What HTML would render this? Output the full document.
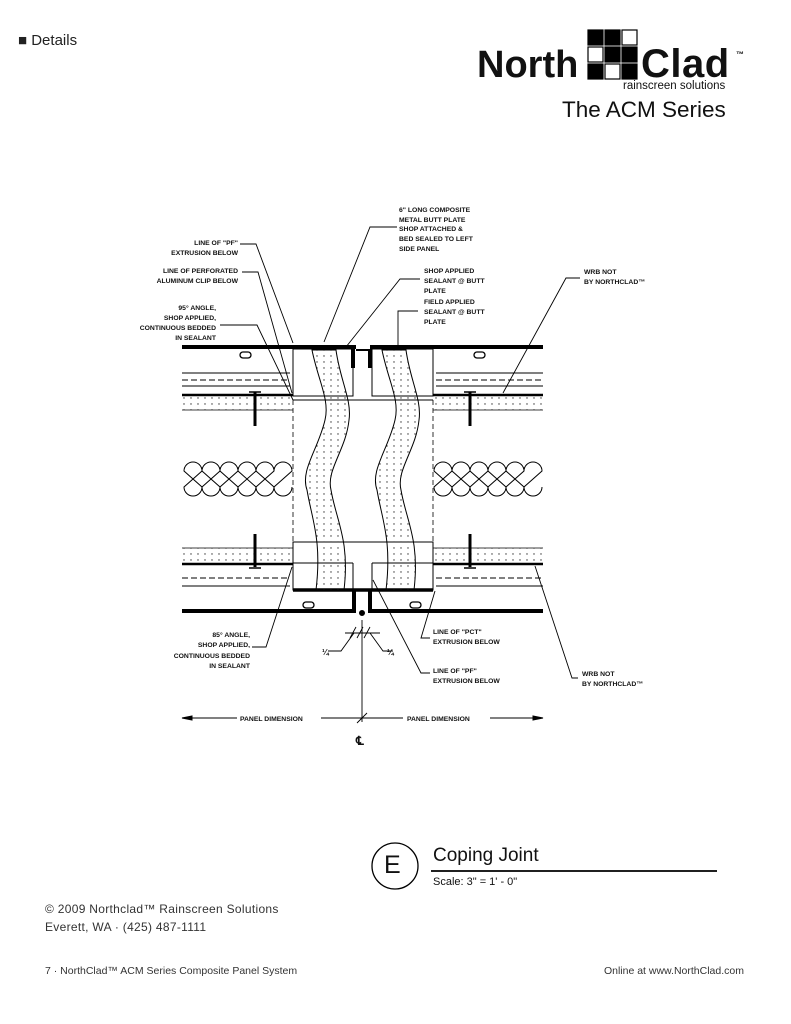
<!DOCTYPE html>
<html><head><meta charset="utf-8"><style>
html,body{margin:0;padding:0;background:#fff;}
body{width:791px;height:1024px;position:relative;overflow:hidden;font-family:"Liberation Sans",sans-serif;}
.t{position:absolute;white-space:nowrap;color:#111;}
</style></head><body>
<div class="t" style="left:477px;top:32px;font-size:15px;color:#222;left:18px;">■ Details</div>
<div class="t" style="left:477px;top:44px;font-size:38px;font-weight:bold;">North</div>
<div class="t" style="left:641px;top:42px;font-size:40px;font-weight:bold;letter-spacing:0.5px;">Clad</div>
<div class="t" style="left:736px;top:50px;font-size:8px;font-weight:bold;">™</div>
<div class="t" style="left:623px;top:80px;font-size:11.5px;">rainscreen solutions</div>
<div class="t" style="left:562px;top:97px;font-size:22.5px;">The ACM Series</div>

<svg width="791" height="1024" style="position:absolute;left:0;top:0" xmlns="http://www.w3.org/2000/svg">
<defs>
<pattern id="dots" width="7" height="6" patternUnits="userSpaceOnUse"><circle cx="2" cy="2" r="0.7" fill="#333"/></pattern>
</defs>
<g stroke="#000" stroke-width="1.2">
<rect x="588" y="30" width="15" height="15" fill="#000"/><rect x="605" y="30" width="15" height="15" fill="#000"/><rect x="622" y="30" width="15" height="15" fill="#fff"/>
<rect x="588" y="47" width="15" height="15" fill="#fff"/><rect x="605" y="47" width="15" height="15" fill="#000"/><rect x="622" y="47" width="15" height="15" fill="#000"/>
<rect x="588" y="64" width="15" height="15" fill="#000"/><rect x="605" y="64" width="15" height="15" fill="#fff"/><rect x="622" y="64" width="15" height="15" fill="#000"/>
</g>

<rect x="182" y="396" width="111" height="14" fill="url(#dots)"/>
<rect x="433" y="396" width="110" height="14" fill="url(#dots)"/>
<rect x="182" y="548" width="111" height="15" fill="url(#dots)"/>
<rect x="433" y="548" width="110" height="15" fill="url(#dots)"/>

<g stroke="#000" fill="none">
<line x1="182" y1="347" x2="356" y2="347" stroke-width="4"/>
<line x1="370" y1="347" x2="543" y2="347" stroke-width="4"/>
<line x1="356" y1="350" x2="370" y2="350" stroke-width="2"/>
<line x1="182" y1="373" x2="290" y2="373" stroke-width="1"/>
<line x1="436" y1="373" x2="543" y2="373" stroke-width="1"/>
<line x1="182" y1="380" x2="290" y2="380" stroke-width="1" stroke-dasharray="6,3"/>
<line x1="436" y1="380" x2="543" y2="380" stroke-width="1" stroke-dasharray="6,3"/>
<line x1="182" y1="386" x2="290" y2="386" stroke-width="1"/>
<line x1="436" y1="386" x2="543" y2="386" stroke-width="1"/>
<line x1="182" y1="395" x2="293" y2="395" stroke-width="2.5"/>
<line x1="433" y1="395" x2="543" y2="395" stroke-width="2.5"/>
<line x1="182" y1="410" x2="293" y2="410" stroke-width="0.8"/>
<line x1="433" y1="410" x2="543" y2="410" stroke-width="0.8"/>
<line x1="293" y1="400" x2="433" y2="400" stroke-width="1"/>
<rect x="293" y="349" width="60" height="47" stroke-width="1"/>
<rect x="372" y="349" width="61" height="47" stroke-width="1"/>
<line x1="353" y1="349" x2="353" y2="368" stroke-width="4"/>
<line x1="370" y1="349" x2="370" y2="368" stroke-width="4"/>
<line x1="293" y1="400" x2="293" y2="542" stroke-width="0.8" stroke-dasharray="5,3"/>
<line x1="433" y1="400" x2="433" y2="542" stroke-width="0.8" stroke-dasharray="5,3"/>

<line x1="182" y1="548" x2="293" y2="548" stroke-width="0.8"/>
<line x1="433" y1="548" x2="543" y2="548" stroke-width="0.8"/>
<line x1="182" y1="564" x2="293" y2="564" stroke-width="2.5"/>
<line x1="433" y1="564" x2="543" y2="564" stroke-width="2.5"/>
<line x1="182" y1="578" x2="290" y2="578" stroke-width="1" stroke-dasharray="6,3"/>
<line x1="436" y1="578" x2="543" y2="578" stroke-width="1" stroke-dasharray="6,3"/>
<line x1="182" y1="586" x2="290" y2="586" stroke-width="1"/>
<line x1="436" y1="586" x2="543" y2="586" stroke-width="1"/>
<rect x="293" y="542" width="140" height="48" stroke-width="1"/>
<line x1="293" y1="563" x2="353" y2="563" stroke-width="1"/>
<line x1="372" y1="563" x2="433" y2="563" stroke-width="1"/>
<line x1="353" y1="563" x2="353" y2="590" stroke-width="1"/>
<line x1="372" y1="563" x2="372" y2="590" stroke-width="1"/>
<line x1="293" y1="590" x2="433" y2="590" stroke-width="3.5"/>
<path d="M182 611 H354 V590 M370 590 V611 H543" stroke-width="4"/>
<circle cx="362" cy="613" r="2.5" fill="#000"/>

<rect x="240" y="352" width="11" height="6" rx="3" stroke-width="1.3"/>
<rect x="474" y="352" width="11" height="6" rx="3" stroke-width="1.3"/>
<rect x="303" y="602" width="11" height="6" rx="3" stroke-width="1.3"/>
<rect x="410" y="602" width="11" height="6" rx="3" stroke-width="1.3"/>

<g stroke-width="3"><line x1="255" y1="392" x2="255" y2="426"/><line x1="470" y1="392" x2="470" y2="426"/>
<line x1="255" y1="534" x2="255" y2="567"/><line x1="470" y1="534" x2="470" y2="567"/></g>
<g stroke-width="1.5"><line x1="249" y1="392" x2="261" y2="392"/><line x1="464" y1="392" x2="476" y2="392"/>
<line x1="249" y1="568" x2="261" y2="568"/><line x1="464" y1="568" x2="476" y2="568"/></g>

<g stroke-width="1">
<path d="M184 471 A9 9 0 0 1 202 471 L184 487 A9 9 0 0 0 202 487 Z"/>
<path d="M202 471 A9 9 0 0 1 220 471 L202 487 A9 9 0 0 0 220 487 Z"/>
<path d="M220 471 A9 9 0 0 1 238 471 L220 487 A9 9 0 0 0 238 487 Z"/>
<path d="M238 471 A9 9 0 0 1 256 471 L238 487 A9 9 0 0 0 256 487 Z"/>
<path d="M256 471 A9 9 0 0 1 274 471 L256 487 A9 9 0 0 0 274 487 Z"/>
<path d="M274 471 A9 9 0 0 1 292 471 L274 487 A9 9 0 0 0 292 487"/>
<path d="M434 471 A9 9 0 0 1 452 471 L434 487 A9 9 0 0 0 452 487 Z"/>
<path d="M452 471 A9 9 0 0 1 470 471 L452 487 A9 9 0 0 0 470 487 Z"/>
<path d="M470 471 A9 9 0 0 1 488 471 L470 487 A9 9 0 0 0 488 487 Z"/>
<path d="M488 471 A9 9 0 0 1 506 471 L488 487 A9 9 0 0 0 506 487 Z"/>
<path d="M506 471 A9 9 0 0 1 524 471 L506 487 A9 9 0 0 0 524 487 Z"/>
<path d="M524 471 A9 9 0 0 1 542 471 L524 487 A9 9 0 0 0 542 487"/>
</g>

<path d="M312 350 C318 380,330 400,325 420 C318 450,300 470,307 490 C312 520,322 540,316 590 L344 590 C350 540,336 520,331 490 C326 470,346 450,349 420 C352 400,340 380,336 350 Z" fill="url(#dots)" stroke-width="1"/>
<path d="M382 350 C388 380,400 400,395 420 C388 450,370 470,377 490 C382 520,392 540,386 590 L414 590 C420 540,406 520,401 490 C396 470,416 450,419 420 C422 400,410 380,406 350 Z" fill="url(#dots)" stroke-width="1"/>

<g stroke-width="0.9">
<path d="M240 244 H256 L293 343"/>
<path d="M242 272 H258 L292 393"/>
<path d="M220 325 H257 L293 400"/>
<path d="M397 227 H370 L324 342"/>
<path d="M420 279 H400 L346 347"/>
<path d="M418 311 H398 V345"/>
<path d="M580 278 H566 L503 393"/>
<path d="M252 647 H266 L292 567"/>
<path d="M430 638 H421 L435 591"/>
<path d="M430 673 H421 L373 580"/>
<path d="M578 678 H572 L535 566"/>
<line x1="362" y1="620" x2="362" y2="722"/>
<path d="M345 633 L380 633 M350 638 L356 627 M357 638 L363 627 M364 638 L370 627"/>
<path d="M328 651 H341 L354 633 M393 651 H383 L370 633"/>
<line x1="182" y1="718" x2="237" y2="718"/><line x1="321" y1="718" x2="403" y2="718"/><line x1="490" y1="718" x2="543" y2="718"/>
<path d="M357 723 L367 713"/>
</g>
<path d="M182 718 L192 716 L192 720 Z M543 718 L533 716 L533 720 Z" fill="#000"/>

<circle cx="395" cy="866" r="23" stroke-width="1.3"/>
<line x1="431" y1="871" x2="717" y2="871" stroke-width="1.8"/>
</g>

<g font-family="Liberation Sans, sans-serif" font-size="6.8" font-weight="bold" fill="#111">
<text x="399" y="212">6" LONG COMPOSITE</text><text x="399" y="222">METAL BUTT PLATE</text><text x="399" y="231">SHOP ATTACHED &amp;</text><text x="399" y="241">BED SEALED TO LEFT</text><text x="399" y="251">SIDE PANEL</text>
<g text-anchor="end"><text x="238" y="245">LINE OF "PF"</text><text x="238" y="255">EXTRUSION BELOW</text>
<text x="238" y="273">LINE OF PERFORATED</text><text x="238" y="283">ALUMINUM CLIP BELOW</text>
<text x="216" y="310">95° ANGLE,</text><text x="216" y="320">SHOP APPLIED,</text><text x="216" y="330">CONTINUOUS BEDDED</text><text x="216" y="340">IN SEALANT</text>
<text x="250" y="637">85° ANGLE,</text><text x="250" y="647">SHOP APPLIED,</text><text x="250" y="658">CONTINUOUS BEDDED</text><text x="250" y="668">IN SEALANT</text></g>
<text x="424" y="273">SHOP APPLIED</text><text x="424" y="283">SEALANT @ BUTT</text><text x="424" y="293">PLATE</text>
<text x="424" y="304">FIELD APPLIED</text><text x="424" y="314">SEALANT @ BUTT</text><text x="424" y="324">PLATE</text>
<text x="584" y="274">WRB NOT</text><text x="584" y="284">BY NORTHCLAD™</text>
<text x="433" y="634">LINE OF "PCT"</text><text x="433" y="644">EXTRUSION BELOW</text>
<text x="433" y="673">LINE OF "PF"</text><text x="433" y="683">EXTRUSION BELOW</text>
<text x="582" y="676">WRB NOT</text><text x="582" y="686">BY NORTHCLAD™</text>
<text x="240" y="721">PANEL DIMENSION</text><text x="407" y="721">PANEL DIMENSION</text>
<text x="322" y="655" font-size="8">¼</text><text x="387" y="655" font-size="8">¼</text>
<text x="356" y="745" font-size="12">℄</text>
</g>
</svg>

<div class="t" style="left:384px;top:851px;font-size:25px;">E</div>
<div class="t" style="left:433px;top:845px;font-size:19px;">Coping Joint</div>
<div class="t" style="left:433px;top:876px;font-size:11px;">Scale: 3" = 1' - 0"</div>
<div class="t" style="left:45px;top:902px;font-size:12px;color:#333;letter-spacing:0.3px;">© 2009 Northclad™ Rainscreen Solutions</div>
<div class="t" style="left:45px;top:920px;font-size:12px;color:#333;letter-spacing:0.3px;">Everett, WA · (425) 487-1111</div>
<div class="t" style="left:45px;top:965px;font-size:10.5px;color:#333;">7 · NorthClad™ ACM Series Composite Panel System</div>
<div class="t" style="right:47px;top:965px;font-size:10.5px;color:#333;">Online at www.NorthClad.com</div>
</body></html>
